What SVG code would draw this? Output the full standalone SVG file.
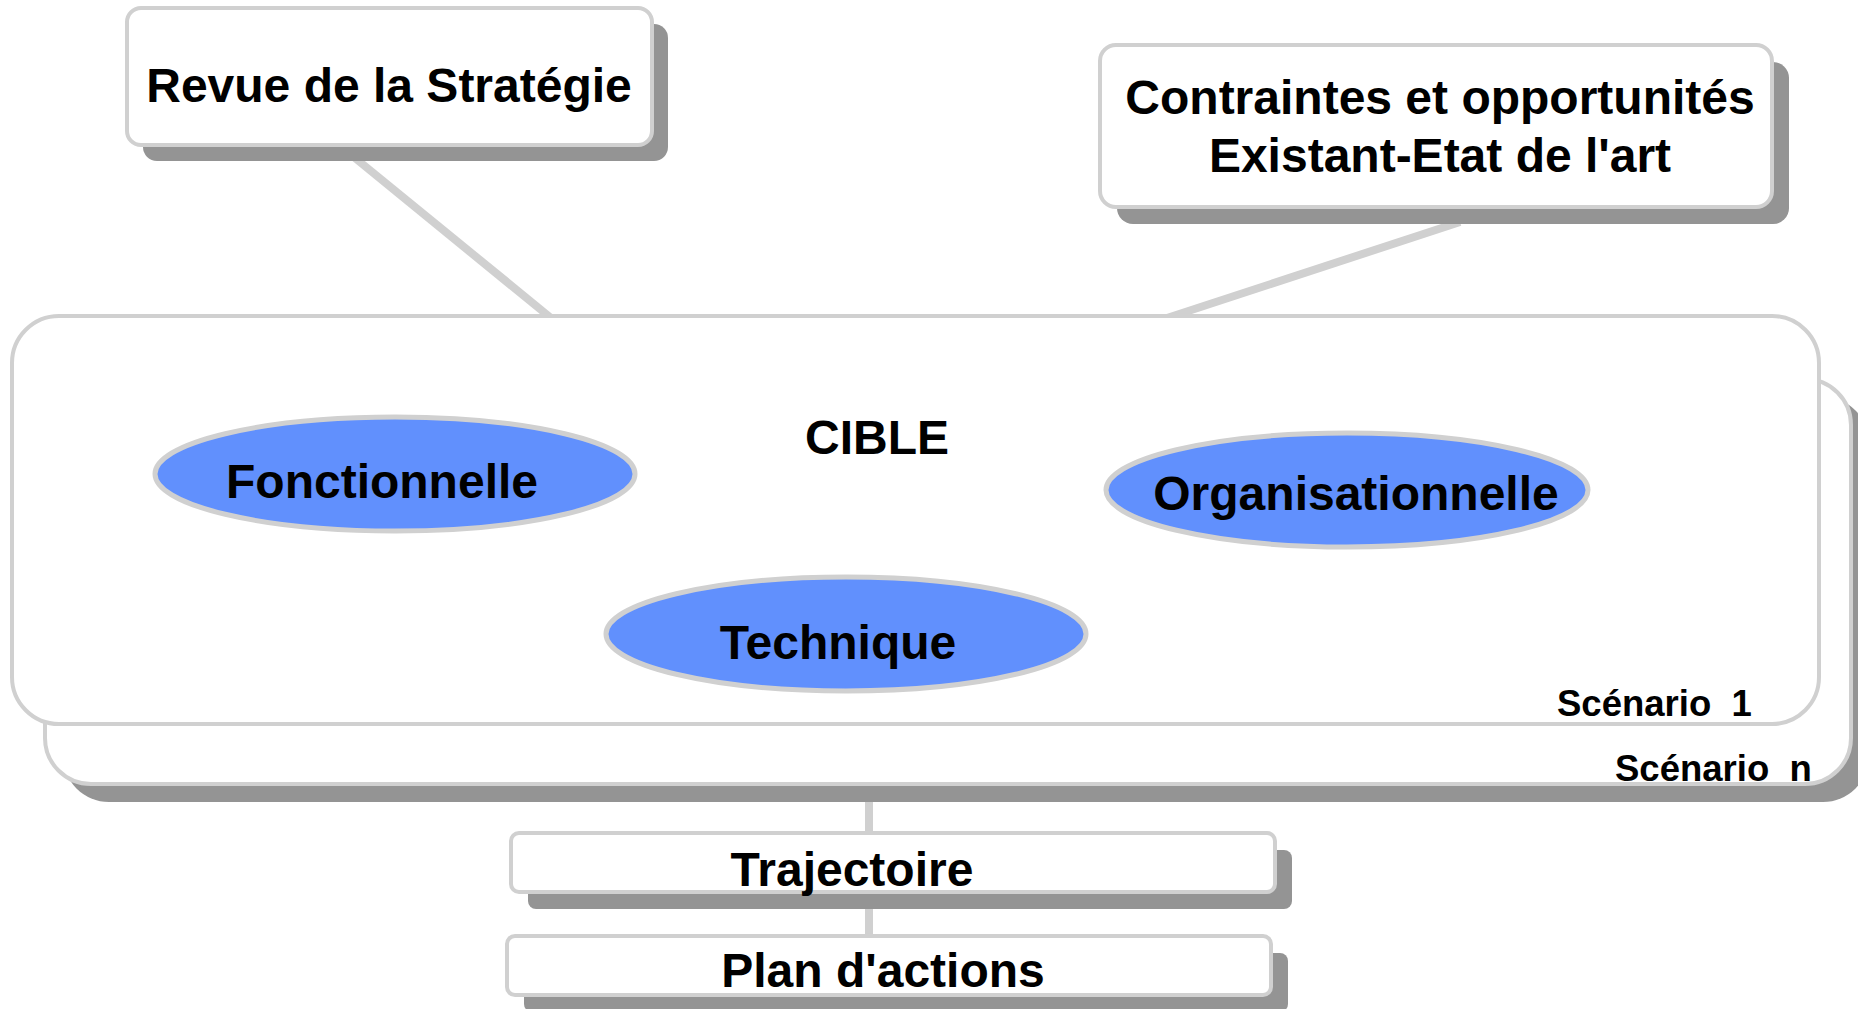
<svg xmlns="http://www.w3.org/2000/svg" width="1858" height="1009" viewBox="0 0 1858 1009">
<style>
.box{fill:#ffffff;stroke:#d0d0d0;stroke-width:4}
.shadow{fill:#949494}
.ell{fill:#6190fd;stroke:#d0d0d0;stroke-width:5}
.conn{stroke:#d0d0d0;stroke-width:8;fill:none}
text{font-family:"Liberation Sans",Arial,sans-serif;font-weight:bold;fill:#000000}
.t48{font-size:48px;text-anchor:middle}
.t36{font-size:36.5px}
</style>
<rect x="0" y="0" width="1858" height="1009" fill="#ffffff"/>
<g id="connectors">
<line class="conn" x1="355" y1="158" x2="551" y2="318"/>
<line class="conn" x1="1460" y1="222" x2="1167" y2="318"/>
<line class="conn" x1="869" y1="795" x2="869" y2="836"/>
<line class="conn" x1="869" y1="905" x2="869" y2="939"/>
</g>
<g id="scenario-n">
<rect class="shadow" x="63" y="397" width="1806" height="405" rx="46"/>
<rect class="box" x="45" y="379" width="1806" height="405" rx="46"/>
<text class="t36" x="1615" y="781">Scénario&#160; n</text>
</g>
<g id="scenario-1">
<rect class="box" x="12" y="316" width="1807" height="408" rx="47"/>
<text class="t36" x="1557" y="716">Scénario&#160; 1</text>
<text class="t48" x="877" y="454">CIBLE</text>
</g>
<g id="revue">
<rect class="shadow" x="143" y="24" width="525" height="137" rx="14"/>
<rect class="box" x="127" y="8" width="525" height="137" rx="14"/>
<text class="t48" x="389" y="102">Revue de la Stratégie</text>
</g>
<g id="contraintes">
<rect class="shadow" x="1117" y="62" width="672" height="162" rx="16"/>
<rect class="box" x="1100" y="45" width="672" height="162" rx="16"/>
<text class="t48" x="1440" y="114">Contraintes et opportunités</text>
<text class="t48" x="1440" y="172">Existant-Etat de l'art</text>
</g>
<g id="fonctionnelle">
<ellipse class="ell" cx="395" cy="474" rx="240" ry="57"/>
<text class="t48" x="382" y="498">Fonctionnelle</text>
</g>
<g id="organisationnelle">
<ellipse class="ell" cx="1347" cy="490" rx="241" ry="57"/>
<text class="t48" x="1356" y="510">Organisationnelle</text>
</g>
<g id="technique">
<ellipse class="ell" cx="846" cy="634" rx="240" ry="57"/>
<text class="t48" x="838" y="659">Technique</text>
</g>
<g id="trajectoire">
<rect class="shadow" x="528" y="850" width="764" height="59" rx="8"/>
<rect class="box" x="511" y="833" width="764" height="59" rx="8"/>
<text class="t48" x="852" y="886">Trajectoire</text>
</g>
<g id="plan">
<rect class="shadow" x="524" y="953" width="764" height="59" rx="8"/>
<rect class="box" x="507" y="936" width="764" height="59" rx="8"/>
<text class="t48" x="883" y="987">Plan d'actions</text>
</g>
</svg>
